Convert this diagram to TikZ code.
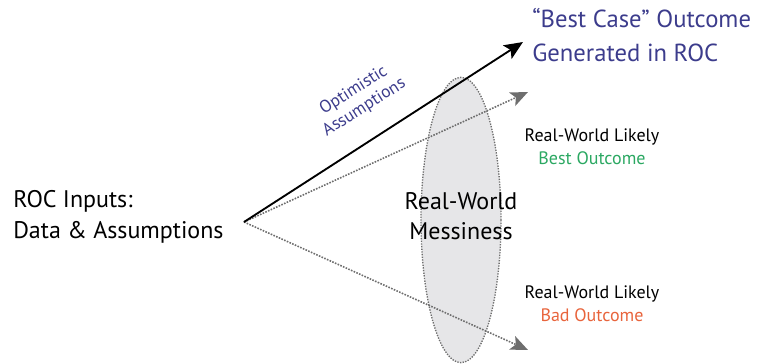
\documentclass[tikz,border=0pt]{standalone}
\usepackage{fontspec}
\setmainfont{PT Sans}
\usepackage{xcolor}
\usetikzlibrary{shapes.geometric,arrows.meta,positioning,calc}

\definecolor{caseblue}{HTML}{3C3C8C}
\definecolor{bestgreen}{HTML}{2BA862}
\definecolor{badorange}{HTML}{E8643C}
\definecolor{messgray}{HTML}{E6E6E8}
\definecolor{dotgray}{HTML}{6E6E6E}

\begin{document}
\begin{tikzpicture}[
    x=0.75pt, y=-0.75pt,
    bigtext/.style={inner sep=0pt, align=center, font=\fontsize{18}{22}\selectfont},
    small/.style={inner sep=0pt, align=center, font=\fontsize{13.5}{17}\selectfont},
    mess/.style={ellipse, draw=dotgray, fill=messgray, densely dotted, line width=1pt, minimum width=60pt, minimum height=214pt},
    arrow/.style={-{Stealth[length=14pt, width=12pt, inset=3pt]}, line width=1.4pt},
    dotarrow/.style={-{Stealth[length=13pt, width=11pt, inset=3pt]}, dotgray, densely dotted, line width=1.2pt},
]
    \useasboundingbox (0,0) rectangle (761,364);

    % Messiness
    \node[mess] (mess) at (461,220) {};

    % Inputs
    \node[bigtext, anchor=west, align=left, font=\fontsize{18}{23}\selectfont] (inputs) at (13,217) {ROC Inputs:\\Data \& Assumptions};
    \coordinate (apex) at (244,222);

    % Outcomes
    \coordinate (bestcase) at (523,42);
    \coordinate (likelybest) at (528,92);
    \coordinate (likelybad) at (528,350);

    % Arrows
    \draw[dotarrow] (apex) -- (likelybest);
    \draw[dotarrow] (apex) -- (likelybad);
    \draw[arrow] (apex) -- (bestcase);

    % Labels
    \node[bigtext] (messtext) at (461,216) {Real-World\\Messiness};
    \node[inner sep=0pt, anchor=west, align=left, text=caseblue, font=\fontsize{18.5}{25}\selectfont] (casetext) at (532,35) {``Best Case'' Outcome\\Generated in ROC};
    \node[inner sep=0pt, align=center, text=caseblue, rotate=32.3, font=\fontsize{13}{15}\selectfont] (optim) at (359,99) {Optimistic\\Assumptions};
    \node[small] (besttext) at (592,147) {Real-World Likely\\\textcolor{bestgreen}{Best Outcome}};
    \node[small] (badtext) at (592,304) {Real-World Likely\\\textcolor{badorange}{Bad Outcome}};
\end{tikzpicture}
\end{document}
